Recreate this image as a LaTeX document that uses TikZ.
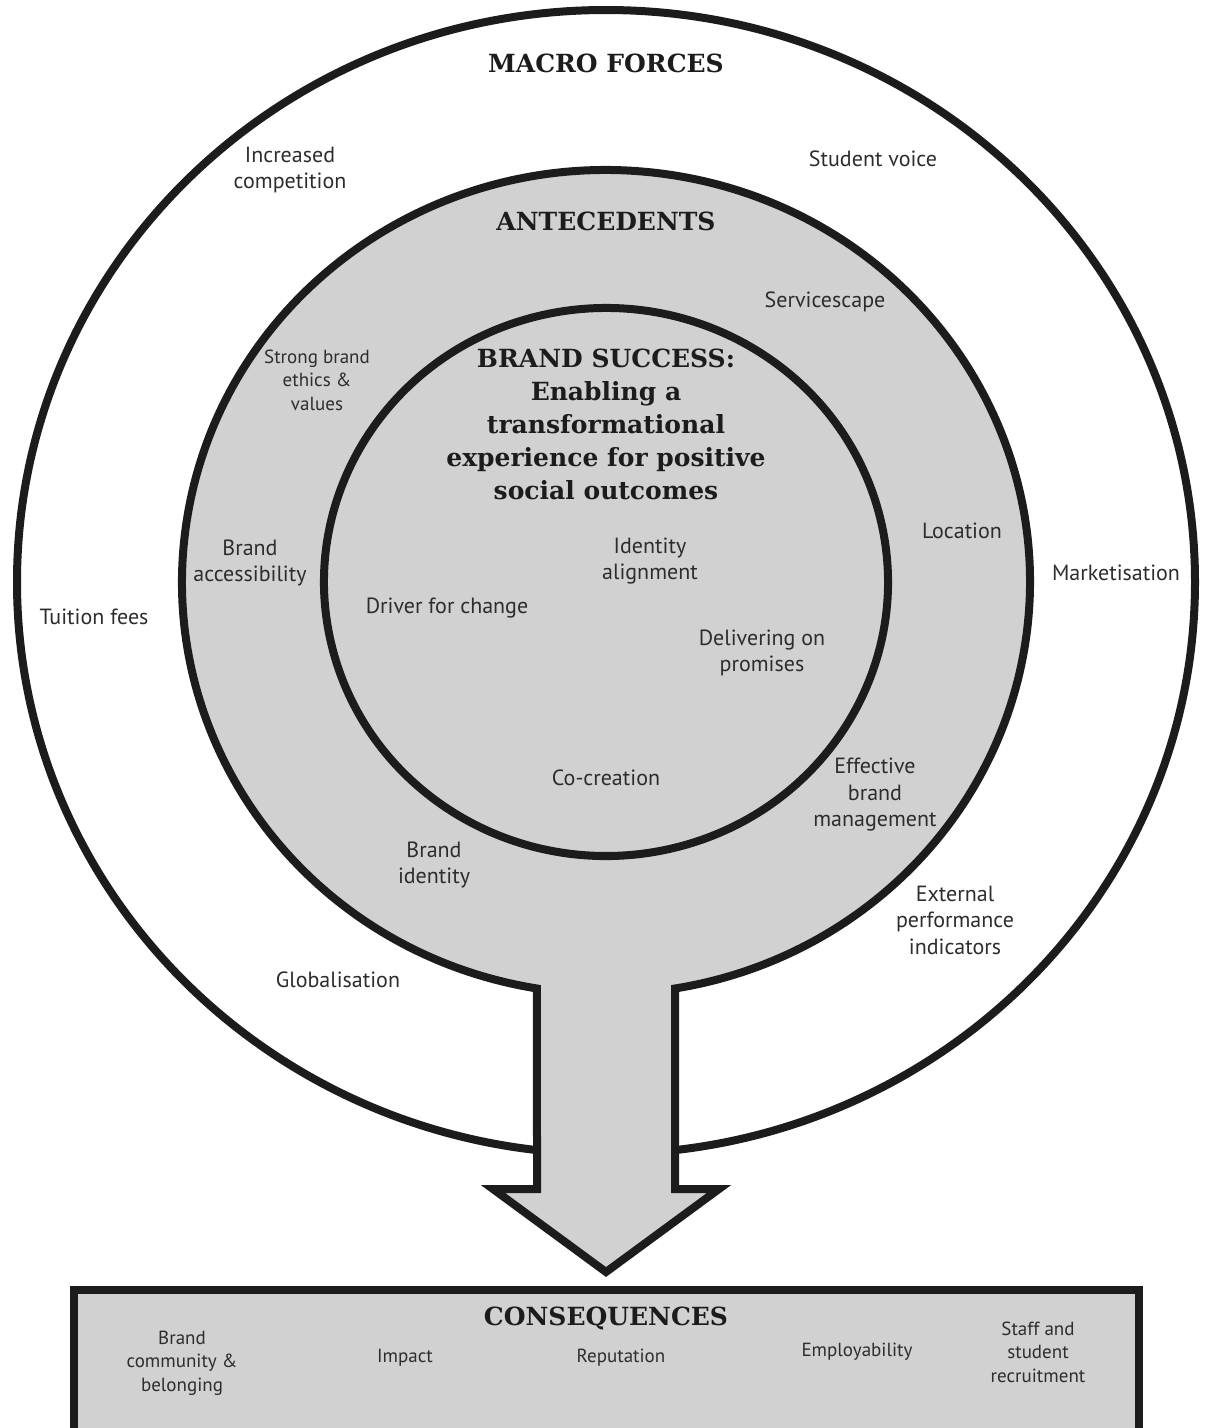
\documentclass[tikz,border=0pt]{standalone}
\usepackage{fontspec}
\setmainfont{PT Sans}
\newfontfamily\headfont{DejaVu Serif}
\usetikzlibrary{calc}
\definecolor{ringfill}{RGB}{209,209,209}
\definecolor{ringline}{RGB}{28,28,28}
\definecolor{labeltext}{RGB}{45,45,45}
\tikzset{
  font=\fontsize{22}{26.5}\selectfont,
  ring/.style={
    draw=ringline,
    line width=8pt,
    line join=miter
  },
  factor/.style={
    align=center,
    text=labeltext,
    inner sep=0pt
  },
  smallfactor/.style={
    factor,
    font=\fontsize{19}{23.5}\selectfont
  },
  heading/.style={
    align=center,
    text=ringline,
    inner sep=0pt,
    font=\headfont\bfseries\fontsize{25}{33}\selectfont
  }
}

\begin{document}
\begin{tikzpicture}[x=1pt, y=-1pt]
\useasboundingbox (0,0) rectangle (1205,1428);

\coordinate (ctr) at (606,582);

% Macro forces ring
\draw[ring] (ctr) ellipse[x radius=589, y radius=572];

% Antecedents ring, running into the arrow
\draw[ring, fill=ringfill] ($(ctr)+(99.37:424 and 412)$)
  arc[start angle=99.37, end angle=440.63, x radius=424, y radius=412]
  -- (675,1189) -- (719,1189) -- (606,1272) -- (493,1189) -- (537,1189) -- cycle;

% Brand success ring, open at the bottom
\draw[ring] ($(ctr)+(76.26:282 and 274)$)
  arc[start angle=76.26, end angle=462.91, x radius=282, y radius=274];

% Consequences box
\draw[ring, fill=ringfill] (74,1290) rectangle (1139,1445);

% Headings
\node[heading] (macro) at (606,63) {MACRO FORCES};
\node[heading] (antec) at (606,221) {ANTECEDENTS};
\node[heading] (success) at (606,424) {BRAND SUCCESS:\\Enabling a\\transformational\\experience for positive\\social outcomes};
\node[heading] (conseq) at (606,1318) {CONSEQUENCES};

% Macro forces
\node[factor] (compet) at (290,170) {Increased\\competition};
\node[factor] (voice) at (873,159) {Student voice};
\node[factor] (market) at (1116,573) {Marketisation};
\node[factor] (fees) at (94,617) {Tuition fees};
\node[factor] (global) at (338,980) {Globalisation};
\node[factor] (extperf) at (955,920) {External\\performance\\indicators};

% Antecedents
\node[factor] (scape) at (825,302) {Servicescape};
\node[smallfactor] (ethics) at (317,380) {Strong brand\\ethics \&\\values};
\node[factor] (locat) at (962,531) {Location};
\node[factor] (access) at (250,563) {Brand\\accessibility};
\node[factor] (manage) at (875,795) {Effective\\brand\\management};
\node[factor] (ident) at (434,865) {Brand\\identity};

% Brand success
\node[factor] (align) at (650,561) {Identity\\alignment};
\node[factor] (driver) at (447,608) {Driver for change};
\node[factor] (promise) at (762,653) {Delivering on\\promises};
\node[factor] (cocreate) at (606,778) {Co-creation};

% Consequences
\node[smallfactor] (commun) at (182,1363) {Brand\\community \&\\belonging};
\node[smallfactor] (impact) at (405,1358) {Impact};
\node[smallfactor] (reput) at (621,1358) {Reputation};
\node[smallfactor] (employ) at (857,1352) {Employability};
\node[smallfactor] (recruit) at (1038,1352) {Staff and\\student\\recruitment};

\end{tikzpicture}
\end{document}
